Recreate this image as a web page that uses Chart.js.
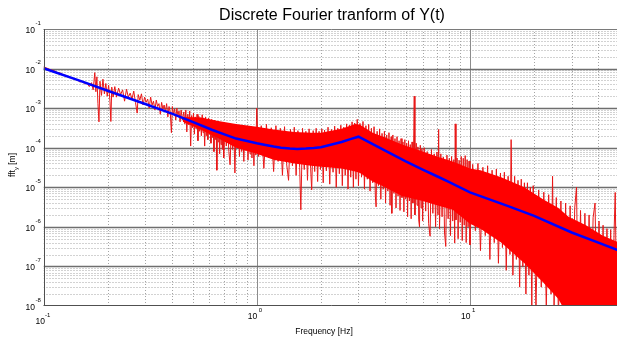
<!DOCTYPE html>
<html>
<head>
<meta charset="utf-8">
<script src="https://cdn.jsdelivr.net/npm/chart.js@4.4.1/dist/chart.umd.min.js"></script>
<style>
  html, body { margin: 0; padding: 0; background: #fff; overflow: hidden; }
  #wrap { width: 619px; height: 337px; }
</style>
</head>
<body>
<div id="wrap"><canvas id="fft" width="619" height="337"></canvas></div>
<script>
// spectrum |Y(f)| in m, as [Hz, m] pairs, split by frequency range
const fftLow = [
  [0.100,1.1e-2],[0.104,1.02e-2],[0.108,9.3e-3],[0.112,8.9e-3],[0.116,8.0e-3],[0.120,7.7e-3],
  [0.124,6.9e-3],[0.128,6.7e-3],[0.132,6.0e-3],[0.136,5.9e-3],[0.140,5.3e-3],[0.144,5.2e-3],
  [0.148,4.6e-3],[0.152,4.7e-3],[0.156,4.1e-3],[0.160,4.3e-3],[0.164,3.5e-3],[0.168,4.4e-3],
  [0.171,2.9e-3],[0.174,7.9e-3],[0.176,2.6e-3],[0.178,6.2e-3],[0.180,1.3e-3],[0.182,4.5e-4],
  [0.184,4.8e-3],[0.187,2.1e-3],[0.190,5.4e-3],[0.193,2.3e-3],[0.196,4.2e-3],[0.199,2.0e-3],
  [0.202,3.8e-3],[0.205,1.5e-3],[0.207,4.6e-4],[0.209,3.4e-3],[0.212,1.9e-3],[0.216,3.5e-3],
  [0.220,1.9e-3],[0.225,3.2e-3],[0.230,2.2e-3],[0.235,2.9e-3],[0.240,1.5e-3],[0.245,3.0e-3],
  [0.250,1.9e-3],[0.255,2.4e-3],[0.260,1.7e-3],[0.265,2.7e-3],[0.270,1.4e-3],[0.275,7.5e-4],
  [0.278,2.2e-3],[0.283,1.6e-3],[0.288,2.3e-3],[0.293,1.2e-3],[0.298,1.9e-3],[0.303,1.4e-3],
  [0.308,1.7e-3],[0.313,1.0e-3],[0.318,1.9e-3],[0.323,1.2e-3],[0.328,1.5e-3],[0.333,9e-4],
  [0.338,1.6e-3],[0.343,1.1e-3],[0.348,1.3e-3],[0.353,7e-4],[0.358,1.4e-3],[0.363,9.5e-4],
  [0.368,1.2e-3],[0.373,8e-4],[0.378,1.3e-3],[0.383,6e-4],[0.388,1.1e-3],[0.393,8e-4],
  [0.398,2.4e-4],[0.402,1.1e-3],[0.407,7e-4],[0.412,9.5e-4],[0.417,5e-4],[0.422,1.0e-3],
  [0.427,6.5e-4],[0.432,8.5e-4],[0.437,4.5e-4],[0.442,9e-4],[0.448,5e-4]
];
const fftMid = [
  [0.455,8e-4],[0.46,4e-4],[0.465,9e-4],[0.47,2.5e-4],[0.475,7e-4],[0.48,3.8e-4],
  [0.485,8.5e-4],[0.49,1.1e-4],[0.495,6.5e-4],[0.5,3.2e-4],[0.505,7.5e-4],[0.51,2.2e-4],
  [0.515,6e-4],[0.52,3e-4],[0.525,7e-4],[0.53,1.5e-4],[0.535,6.2e-4],[0.54,2.6e-4],
  [0.545,5.5e-4],[0.55,2e-4],[0.555,6.8e-4],[0.56,2.4e-4],[0.565,5e-4],[0.57,1.1e-4],
  [0.575,6e-4],[0.58,2e-4],[0.585,4.8e-4],[0.59,1.6e-4],[0.595,5.6e-4],[0.6,2.2e-4],
  [0.605,4.5e-4],[0.61,1.3e-4],[0.615,5.2e-4],[0.62,1.8e-4],[0.625,4.4e-4],[0.63,8e-5],
  [0.635,5e-4],[0.64,1.6e-4],[0.645,4e-4],[0.65,2.7e-5],[0.655,4.6e-4],[0.66,1.4e-4],
  [0.665,3.8e-4],[0.67,7e-5],[0.675,4.4e-4],[0.68,1.2e-4],[0.685,3.6e-4],[0.69,9e-5],
  [0.695,4.2e-4],[0.7,5.5e-5],[0.71,3.7e-4],[0.72,1.1e-4],[0.73,4.1e-4],[0.74,8e-5],
  [0.75,3.7e-5],[0.76,3.5e-4],[0.77,9e-5],[0.78,3.9e-4],[0.79,2.3e-5],[0.8,3.3e-4],
  [0.81,1e-4],[0.82,3.7e-4],[0.83,6e-5],[0.84,3.2e-4],[0.85,8e-5],[0.86,3.6e-4],
  [0.87,4.5e-5],[0.88,3.1e-4],[0.89,8.5e-5],[0.9,3.5e-4],[0.91,4.9e-5],[0.92,3e-4],
  [0.93,7e-5],[0.94,3.4e-4],[0.95,5.5e-5],[0.96,2.9e-4],[0.97,3.5e-5],[0.98,3.3e-4],
  [0.99,6.5e-5],[1.0,1.0e-3]
];
const fftKnee = [
  [1.02,6e-5],[1.05,3.6e-4],[1.08,3e-5],[1.11,3.9e-4],[1.14,5.5e-5],[1.17,3.2e-4],
  [1.2,2.5e-5],[1.23,3.6e-4],[1.26,4.5e-5],[1.29,3.1e-4],[1.32,2e-5],[1.35,3.4e-4],
  [1.38,4e-5],[1.41,1.5e-5],[1.44,2.9e-4],[1.47,3.5e-5],[1.5,3.3e-4],[1.53,2e-5],
  [1.56,2.7e-4],[1.59,3.2e-5],[1.61,2.7e-6],[1.64,3.1e-4],[1.67,2.8e-5],[1.7,2.6e-4],
  [1.73,1.5e-5],[1.76,3e-4],[1.79,3e-5],[1.81,8.6e-6],[1.84,2.7e-4],[1.87,2.5e-5],
  [1.9,3.1e-4],[1.93,1.4e-5],[1.96,2.6e-4],[1.99,2.8e-5],[2.02,3e-4],[2.05,1.3e-5],
  [2.08,2.8e-4],[2.12,2.6e-5],[2.16,3.3e-4],[2.2,1.2e-5],[2.24,2.9e-4],[2.28,2.4e-5],
  [2.32,3.5e-4],[2.36,1e-5],[2.4,3.1e-4],[2.44,2.2e-5],[2.48,3.7e-4],[2.52,1.1e-5],
  [2.56,3.3e-4],[2.6,2e-5],[2.64,4e-4],[2.68,9e-6],[2.72,3.7e-4],[2.76,1.8e-5],
  [2.8,4.5e-4],[2.84,1e-5],[2.88,4.2e-4],[2.92,1.6e-5],[2.96,5.2e-4],[3.0,1.1e-5],
  [3.05,4.1e-4],[3.1,1.8e-5],[3.15,4.6e-4],[3.2,9e-6],[3.25,3.6e-4],[3.3,1.6e-5],
  [3.35,3.9e-4],[3.4,8e-6],[3.45,3.1e-4],[3.5,1.3e-5],[3.55,3.4e-4],[3.6,6e-6],
  [3.63,3.2e-6],[3.67,2.6e-4],[3.72,1.1e-5],[3.77,3e-4],[3.82,5e-6],[3.87,2.3e-4],
  [3.92,9e-6],[3.97,2.6e-4],[4.02,4e-6],[4.07,2.1e-4],[4.12,8e-6],[4.17,2.4e-4],
  [4.22,3.5e-6],[4.27,1.9e-4],[4.3,2.2e-6],[4.35,2.1e-4],[4.4,7e-6],[4.45,1.7e-4],
  [4.5,3e-6],[4.55,1.9e-4],[4.6,6e-6],[4.65,1.5e-4],[4.7,2.6e-6],[4.75,1.7e-4],
  [4.8,5.5e-6],[4.85,1.4e-4],[4.9,2.4e-6],[4.95,1.6e-4],[5.0,5e-6],[5.05,1.3e-4],
  [5.1,1.8e-6],[5.15,1.5e-4],[5.2,4.5e-6],[5.25,1.2e-4],[5.3,1.6e-6],[5.35,1.4e-4],
  [5.4,4e-6],[5.48,2e-3],[5.52,2e-6],[5.6,1.3e-4],[5.65,3.5e-6],[5.7,1.05e-4],
  [5.75,1.5e-6],[5.8,1e-6],[5.85,1.15e-4],[5.9,3e-6],[5.95,9.5e-5],[6.0,1.4e-6]
];
const fftHigh = [
  [6.1,1e-4],[6.2,2.5e-6],[6.3,8e-5],[6.4,1.2e-6],[6.5,5.8e-7],[6.6,9e-5],
  [6.7,2.2e-6],[6.8,7e-5],[6.9,1e-6],[7.0,7.8e-5],[7.08,2e-6],[7.13,2.9e-4],
  [7.2,9e-7],[7.3,7e-5],[7.4,1.8e-6],[7.5,5.8e-5],[7.6,7e-7],[7.7,3.2e-7],
  [7.8,6.5e-5],[7.9,1.6e-6],[8.0,5.4e-5],[8.1,6e-7],[8.2,6e-5],[8.3,1.4e-6],
  [8.4,5e-5],[8.48,3.9e-7],[8.53,4e-4],[8.6,1.5e-6],[8.7,5.5e-5],[8.8,5e-7],
  [8.9,4.8e-5],[9.0,1.3e-6],[9.1,6e-5],[9.2,4.5e-7],[9.3,5.4e-5],[9.4,1.1e-6],
  [9.5,6.3e-5],[9.6,4e-7],[9.7,5e-5],[9.8,1e-6],[9.9,4.6e-5],[10.0,3.5e-7],
  [10.3,3.8e-5],[10.6,8e-7],[10.9,4e-5],[11.2,2.5e-7],[11.5,3.2e-5],[11.8,6e-7],
  [12.1,3.5e-5],[12.4,1.5e-7],[12.7,2.7e-5],[13.0,4e-7],[13.3,2.9e-5],[13.6,1.2e-7],
  [13.9,2.3e-5],[14.2,3e-7],[14.5,2.4e-5],[14.8,8e-8],[15.1,1.9e-5],[15.4,2e-7],
  [15.6,1.6e-4],[15.9,6e-8],[16.2,1.9e-5],[16.5,1.5e-7],[16.8,1.5e-5],[17.1,3e-8],
  [17.4,1.6e-5],[17.7,1e-7],[18.0,1.3e-5],[18.3,2e-8],[18.6,1.3e-5],[18.9,6e-8],
  [19.2,1e-5],[19.5,1e-8],[19.8,1.1e-5]
];
const fftTail = [
  [20.4,1e-8],[21.0,8.5e-6],[21.6,3e-8],[22.2,7.5e-6],[22.8,1e-8],[23.4,6.5e-6],
  [24.0,2e-8],[24.4,1.9e-5],[24.8,1e-8],[25.4,5.5e-6],[26.0,5e-9],[26.7,4.5e-6],
  [27.4,5e-9],[28.1,4e-6],[28.8,5e-9],[29.5,3.4e-6],[30.2,5e-9],[31.0,3e-6],
  [31.6,1e-5],[32.2,5e-9],[33.0,2.6e-6],[33.8,5e-9],[34.6,2.2e-6],[35.4,5e-9],
  [36.2,2e-6],[37.0,5e-9],[37.8,1.7e-6],[38.6,4e-6],[39.4,5e-9],[40.3,1.4e-6],
  [41.2,5e-9],[42.1,1.1e-6],[43.0,5e-9],[43.9,9e-7],[44.8,5e-9],[45.7,8.5e-7],
  [46.6,5e-9],[47.4,7e-7],[48.0,7.4e-6],[48.8,5e-9],[49.6,6e-7],[50.5,5e-9]
];

// dense core of the spectrum (upper / lower edge)
const bandHz  = [0.45, 0.55, 0.65, 0.8, 1.0, 1.2, 1.5, 1.8, 2.0, 2.5, 2.9, 3.05, 3.5, 4, 4.8, 6, 7, 8.3, 10, 11.2, 14, 18, 22, 26, 29, 35, 42, 50];
const bandTop = [6e-4, 5.8e-4, 4.8e-4, 4.0e-4, 3.4e-4, 2.9e-4, 2.5e-4, 2.4e-4, 2.4e-4, 3.0e-4, 4.0e-4, 3.8e-4, 2.4e-4, 1.8e-4, 1.2e-4, 8e-5, 6e-5, 4.5e-5, 3e-5, 2.7e-5, 1.8e-5, 1.0e-5, 5e-6, 3e-6, 1.8e-6, 1.1e-6, 6e-7, 4e-7];
const bandBot = [4.5e-4, 2.8e-4, 1.8e-4, 1.0e-4, 7e-5, 5e-5, 4e-5, 3.5e-5, 3.3e-5, 3e-5, 2.5e-5, 2.3e-5, 1.4e-5, 1e-5, 6e-6, 4.5e-6, 3.5e-6, 2.7e-6, 1.2e-6, 9e-7, 4e-7, 1.2e-7, 4e-8, 1.5e-8, 5e-9, 5e-9, 5e-9, 5e-9];

// fitted model curve
const fitHz  = [0.1, 0.15, 0.2, 0.3, 0.4, 0.5, 0.62, 0.7, 0.8, 0.9, 1.0, 1.1, 1.2, 1.3, 1.43, 1.55, 1.7, 1.85, 2.0, 2.2, 2.5, 2.75, 3.0, 3.5, 4, 5, 6, 7, 8, 10, 15, 20, 30, 40, 50];
const fitAmp = [1.02e-2, 4.8e-3, 2.75e-3, 1.27e-3, 7.3e-4, 4.5e-4, 2.8e-4, 2.2e-4, 1.7e-4, 1.48e-4, 1.3e-4, 1.17e-4, 1.07e-4, 1.0e-4, 9.5e-5, 9.3e-5, 9.5e-5, 9.8e-5, 1.03e-4, 1.17e-4, 1.4e-4, 1.65e-4, 1.9e-4, 1.23e-4, 8.4e-5, 4.5e-5, 2.8e-5, 1.9e-5, 1.35e-5, 7.4e-6, 3.4e-6, 1.9e-6, 7.2e-7, 4.0e-7, 2.5e-7];

const xDecades = [0.1, 1, 10];
const yDecades = [1e-8, 1e-7, 1e-6, 1e-5, 1e-4, 1e-3, 1e-2, 1e-1];
const xExp = ['-1', '0', '1'];
const yExp = ['-8', '-7', '-6', '-5', '-4', '-3', '-2', '-1'];
const X_MIN = 0.1, X_MAX = 50;

const FONT = "Arial, 'Liberation Sans', sans-serif";

const pts = arr => arr.map(p => ({ x: p[0], y: p[1] }));
const zip = (xs, ys) => xs.map((v, i) => ({ x: v, y: ys[i] }));

function hLine(ctx, a, py) {
  ctx.beginPath(); ctx.moveTo(a.left, py); ctx.lineTo(a.right, py); ctx.stroke();
}
function vLine(ctx, a, px) {
  ctx.beginPath(); ctx.moveTo(px, a.top); ctx.lineTo(px, a.bottom); ctx.stroke();
}

const axesDecor = {
  id: 'axesDecor',
  beforeDatasetsDraw(chart) {
    const { ctx, chartArea: a, scales: { x, y } } = chart;
    ctx.save();
    ctx.beginPath();
    ctx.rect(a.left, a.top, a.right - a.left, a.bottom - a.top);
    ctx.clip();

    // minor grid, dotted
    ctx.setLineDash([1, 2]);
    ctx.lineWidth = 1;
    ctx.strokeStyle = '#a4a4a4';
    xDecades.forEach(d => {
      for (let m = 2; m <= 9; m++) {
        if (m * d > X_MAX) break;
        vLine(ctx, a, Math.round(x.getPixelForValue(m * d)) + 0.5);
      }
    });
    yDecades.forEach(d => {
      if (d >= 1e-1) return;
      for (let m = 2; m <= 9; m++) hLine(ctx, a, Math.round(y.getPixelForValue(m * d)) + 0.5);
    });

    // decade grid, solid
    ctx.setLineDash([]);
    ctx.strokeStyle = '#8c8c8c';
    xDecades.slice(1).forEach(d => vLine(ctx, a, Math.round(x.getPixelForValue(d)) + 0.5));
    ctx.strokeStyle = '#6e6e6e';
    ctx.lineWidth = 1.3;
    yDecades.slice(1, -1).forEach(d => hLine(ctx, a, Math.round(y.getPixelForValue(d)) + 0.5));
    ctx.restore();
  },
  afterDatasetsDraw(chart) {
    const { ctx, chartArea: a } = chart;
    ctx.save();
    ctx.lineWidth = 1;
    ctx.strokeStyle = '#7a7a7a';
    hLine(ctx, a, Math.round(a.top) + 0.5);
    ctx.strokeStyle = '#505050';
    ctx.beginPath();
    ctx.moveTo(Math.round(a.left) + 0.5, a.top);
    ctx.lineTo(Math.round(a.left) + 0.5, a.bottom);
    ctx.stroke();
    hLine(ctx, a, Math.round(a.bottom) - 0.5);
    ctx.restore();
  },
  afterDraw(chart) {
    const { ctx, chartArea: a, scales: { x, y } } = chart;
    ctx.save();
    ctx.fillStyle = '#000';

    // title
    ctx.font = '16px ' + FONT;
    ctx.textAlign = 'center';
    ctx.textBaseline = 'alphabetic';
    ctx.fillText('Discrete Fourier tranform of Y(t)', 332, 20);

    // y ticks: 10^n
    yDecades.forEach((d, i) => {
      const py = y.getPixelForValue(d);
      ctx.font = '8.5px ' + FONT;
      ctx.textAlign = 'right';
      ctx.fillText('10', a.left - 8.5, py + 4);
      ctx.font = '6px ' + FONT;
      ctx.textAlign = 'left';
      ctx.fillText(yExp[i], a.left - 8, py - 4.3);
    });

    // x ticks: 10^n (the corner one sits lower, clear of the y labels)
    xDecades.forEach((d, i) => {
      const px = x.getPixelForValue(d);
      const drop = i === 0 ? 5 : 0;
      ctx.font = '8.5px ' + FONT;
      ctx.textAlign = 'right';
      ctx.fillText('10', px + (i === 0 ? 1.5 : 0.5), a.bottom + 12.5 + drop);
      ctx.font = '6px ' + FONT;
      ctx.textAlign = 'left';
      ctx.fillText(xExp[i], px + (i === 0 ? 1.5 : 2), a.bottom + 5.7 + drop);
    });

    // axis titles
    ctx.font = '8.5px ' + FONT;
    ctx.textAlign = 'center';
    ctx.fillText('Frequency [Hz]', 324, 334);

    ctx.translate(15, 165);
    ctx.rotate(-Math.PI / 2);
    ctx.textAlign = 'left';
    const w1 = ctx.measureText('fft').width;
    ctx.font = '6px ' + FONT;
    const w2 = ctx.measureText('y').width;
    ctx.font = '8.5px ' + FONT;
    const w3 = ctx.measureText(' [m]').width;
    let cx = -(w1 + w2 + w3) / 2;
    ctx.fillText('fft', cx, 0);
    cx += w1;
    ctx.font = '6px ' + FONT;
    ctx.fillText('y', cx, 2.5);
    cx += w2;
    ctx.font = '8.5px ' + FONT;
    ctx.fillText(' [m]', cx, 0);
    ctx.restore();
  }
};

const spectrum = pts([].concat(fftLow, fftMid, fftKnee, fftHigh, fftTail));

new Chart(document.getElementById('fft'), {
  type: 'line',
  data: {
    datasets: [
      { label: 'fit', data: zip(fitHz, fitAmp), borderColor: '#0000ff', borderWidth: 2.5, fill: false },
      { label: 'core top', data: zip(bandHz, bandTop), borderColor: '#ff0000', borderWidth: 0,
        backgroundColor: '#ff0000', fill: 2 },
      { label: 'core bottom', data: zip(bandHz, bandBot), borderColor: '#ff0000', borderWidth: 0, fill: false },
      { label: 'fft_y', data: spectrum, borderColor: 'rgb(232,24,24)', borderWidth: 1, fill: false }
    ]
  },
  options: {
    responsive: false,
    animation: false,
    events: [],
    layout: { padding: { left: 43.5, top: 29, right: 0, bottom: 31 } },
    elements: { point: { radius: 0 }, line: { tension: 0 } },
    plugins: { legend: { display: false }, tooltip: { enabled: false } },
    scales: {
      x: { type: 'logarithmic', min: X_MIN, max: X_MAX, display: false },
      y: { type: 'logarithmic', min: 1e-8, max: 1e-1, display: false }
    }
  },
  plugins: [axesDecor]
});
</script>
</body>
</html>
